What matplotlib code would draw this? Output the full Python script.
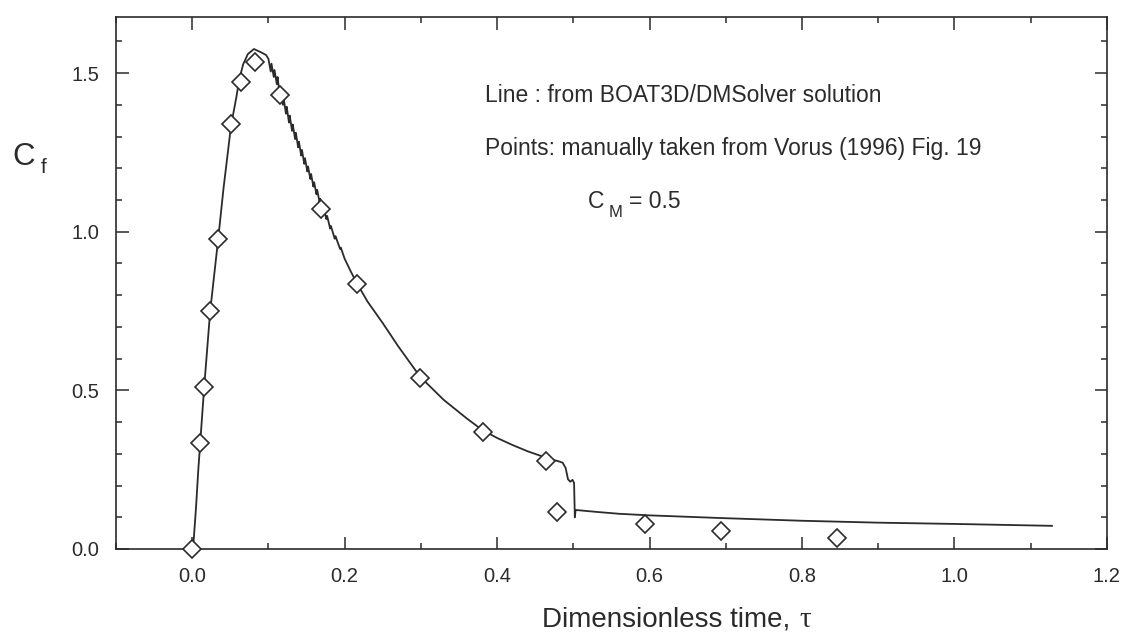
import numpy as np
import matplotlib.pyplot as plt
from matplotlib.ticker import MultipleLocator

plt.rcParams['font.family'] = ['Liberation Sans', 'DejaVu Sans']

# BOAT3D/DMSolver force coefficient history
tau_line = [0.000, 0.002, 0.005, 0.008, 0.0105, 0.0157, 0.0236, 0.034, 0.041,
            0.051, 0.058, 0.0617, 0.0669, 0.073, 0.081, 0.090, 0.097, 0.100,
            0.103, 0.104, 0.107, 0.108, 0.111, 0.112, 0.115, 0.116, 0.119,
            0.120, 0.123, 0.124, 0.127, 0.128, 0.131, 0.132, 0.135, 0.136,
            0.139, 0.140, 0.143, 0.144, 0.147, 0.148, 0.151, 0.152, 0.155,
            0.156, 0.159, 0.160, 0.163, 0.164, 0.167, 0.168, 0.171, 0.172,
            0.176, 0.177, 0.181, 0.182, 0.187, 0.188, 0.194, 0.195, 0.200,
            0.208, 0.216, 0.230, 0.250, 0.270, 0.299, 0.330, 0.360, 0.380,
            0.400, 0.420, 0.440, 0.464, 0.475, 0.480, 0.486, 0.490, 0.493,
            0.496, 0.499, 0.501, 0.502, 0.503, 0.530, 0.560, 0.600, 0.700,
            0.800, 0.900, 1.000, 1.128]
cf_line = [0.000, 0.030, 0.130, 0.250, 0.334, 0.510, 0.750, 0.975, 1.135,
           1.335, 1.425, 1.480, 1.528, 1.560, 1.576, 1.566, 1.557, 1.545,
           1.505, 1.530, 1.488, 1.510, 1.465, 1.488, 1.428, 1.452, 1.400,
           1.420, 1.372, 1.394, 1.344, 1.366, 1.318, 1.338, 1.292, 1.312,
           1.266, 1.284, 1.240, 1.258, 1.214, 1.232, 1.190, 1.206, 1.166,
           1.182, 1.142, 1.156, 1.118, 1.132, 1.094, 1.104, 1.070, 1.080,
           1.040, 1.050, 1.010, 1.018, 0.978, 0.986, 0.946, 0.950, 0.915,
           0.875, 0.838, 0.780, 0.712, 0.640, 0.543, 0.470, 0.412, 0.376,
           0.350, 0.328, 0.308, 0.288, 0.280, 0.277, 0.272, 0.255, 0.220,
           0.212, 0.218, 0.208, 0.100, 0.123, 0.117, 0.111, 0.106, 0.097,
           0.089, 0.083, 0.079, 0.073]

# Vorus (1996) Fig. 19 values
tau_pts = [0.000, 0.0105, 0.0157, 0.0236, 0.034, 0.051, 0.064, 0.083, 0.115,
           0.169, 0.216, 0.299, 0.381, 0.464, 0.479, 0.594, 0.694, 0.846]
cf_pts = [0.000, 0.334, 0.511, 0.750, 0.977, 1.339, 1.472, 1.535, 1.431,
          1.072, 0.835, 0.539, 0.370, 0.277, 0.117, 0.079, 0.057, 0.035]

ink = '#2b2b2b'

fig = plt.figure(figsize=(11.26, 6.43), dpi=100)
ax = fig.add_axes([0.103, 0.1462, 0.880, 0.8274])

ax.plot(tau_line, cf_line, color=ink, lw=1.3, zorder=2)
ax.plot(tau_pts, cf_pts, ls='none', marker='D', ms=9.3, mfc='white',
        mec=ink, mew=1.2, zorder=3, clip_on=False)

ax.set_xlim(-0.1, 1.2)
ax.set_ylim(0, 1.677)
ax.xaxis.set_major_locator(MultipleLocator(0.2))
ax.xaxis.set_minor_locator(MultipleLocator(0.1))
ax.yaxis.set_major_locator(MultipleLocator(0.5))
ax.yaxis.set_minor_locator(MultipleLocator(0.1))
ax.tick_params(which='both', direction='in', top=True, right=True,
               color=ink, width=1.1, labelcolor=ink, labelsize=14.5)
ax.tick_params(which='major', length=9)
ax.tick_params(which='minor', length=4.5)
ax.tick_params(axis='x', which='major', pad=13)
ax.tick_params(axis='y', which='major', pad=12)
for s in ax.spines.values():
    s.set_color(ink)
    s.set_linewidth(1.2)

# x-axis label, tau set in an upright serif face
fig.text(790 / 1126, 1 - 627 / 643, 'Dimensionless time,',
         fontsize=20, color=ink, ha='right', va='baseline')
fig.text(799 / 1126, 1 - 627 / 643, '\u03c4', family='Liberation Serif',
         fontsize=21, color=ink, ha='left', va='baseline')

# y-axis label C_f
fig.text(12 / 1126, 1 - 165 / 643, 'C', fontsize=22.5, color=ink,
         ha='left', va='baseline')
fig.text(41 / 1126, 1 - 173 / 643, 'f', fontsize=15, color=ink,
         ha='left', va='baseline')

# annotations
ax.text(485 / 1126, 1 - 102 / 643, 'Line : from BOAT3D/DMSolver solution',
        transform=fig.transFigure, fontsize=16.5, color=ink)
ax.text(485 / 1126, 1 - 155 / 643,
        'Points: manually taken from Vorus (1996) Fig. 19',
        transform=fig.transFigure, fontsize=16.5, color=ink)
ax.text(588 / 1126, 1 - 208 / 643, 'C', transform=fig.transFigure,
        fontsize=16.5, color=ink)
ax.text(609 / 1126, 1 - 217 / 643, 'M', transform=fig.transFigure,
        fontsize=12, color=ink)
ax.text(629 / 1126, 1 - 208 / 643, '= 0.5', transform=fig.transFigure,
        fontsize=16.5, color=ink)

fig.savefig('out.png', dpi=100)
